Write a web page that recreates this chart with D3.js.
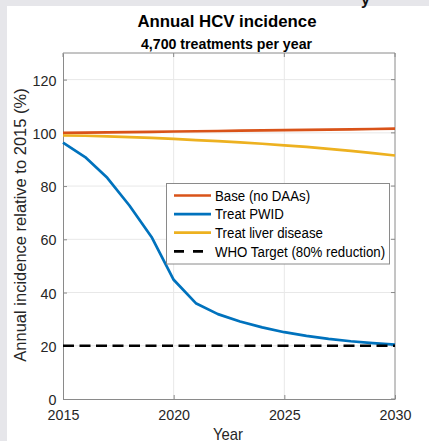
<!DOCTYPE html>
<html><head><meta charset="utf-8">
<script src="https://cdn.jsdelivr.net/npm/d3@7"></script>
<style>body{margin:0;background:#fff}svg{display:block}</style>
</head><body><svg id="c" width="429" height="441"></svg>
<script>
const years = [2015,2016,2017,2018,2019,2020,2021,2022,2023,2024,2025,2026,2027,2028,2029,2030];
const base = [100,100.1,100.2,100.3,100.4,100.5,100.6,100.7,100.8,100.9,101.0,101.1,101.2,101.3,101.45,101.6];
const treatPWID = [96.3,90.9,83.1,72.7,60.9,44.8,36.0,31.9,29.1,26.9,25.1,23.7,22.6,21.7,21.0,20.4];
const treatLiver = [99.0,98.9,98.7,98.4,98.1,97.7,97.3,96.9,96.4,95.9,95.3,94.7,94.0,93.2,92.4,91.5];
const whoTarget = 20;
const xTicks = [2015,2020,2025,2030];
const yTicks = [0,20,40,60,80,100,120];
const seriesNames = ["Base (no DAAs)","Treat PWID","Treat liver disease","WHO Target (80% reduction)"];

const svg = d3.select("#c");
const font = "Liberation Sans, Arial, Helvetica, sans-serif";
svg.append("rect").attr("x",0).attr("y",0).attr("width",429).attr("height",441).attr("fill","#e6e6ea");
svg.append("rect").attr("x",7).attr("y",6).attr("width",422).attr("height",435).attr("fill","#fff");
svg.append("text").attr("x",361).attr("y",5).attr("font-family",font).attr("font-weight","bold").attr("font-size",16).attr("fill","#111").text("y");

const L=63, R=395, T=53, B=399;
const x = d3.scaleLinear().domain([2015,2030]).range([L,R]);
const y = d3.scaleLinear().domain([0,130]).range([B,T]);
const axCol = "#8a8a8a";

const g = svg.append("g");
g.selectAll(".gx").data(xTicks.slice(1,-1)).join("line").attr("x1",d=>x(d)).attr("x2",d=>x(d)).attr("y1",T).attr("y2",B).attr("stroke","#e8e8e8");
g.selectAll(".gy").data(yTicks.slice(1)).join("line").attr("x1",L).attr("x2",R).attr("y1",d=>y(d)).attr("y2",d=>y(d)).attr("stroke","#e8e8e8");

const xAxis = d3.axisBottom(x).tickValues(xTicks).tickFormat(d3.format("d")).tickSizeInner(-4).tickSizeOuter(0).tickPadding(8);
const yAxis = d3.axisLeft(y).tickValues(yTicks).tickSizeInner(-4).tickSizeOuter(0).tickPadding(7);
const gx = svg.append("g").attr("transform",`translate(0,${B})`).call(xAxis);
const gy = svg.append("g").attr("transform",`translate(${L},0)`).call(yAxis);
[gx,gy].forEach(a=>{
  a.select(".domain").attr("stroke",axCol);
  a.selectAll(".tick line").attr("stroke",axCol);
  a.selectAll("text").attr("font-family",font).attr("font-size",15.4).attr("fill","#262626").attr("transform","scale(0.93,1)");
});
gx.selectAll("text").attr("y",21).attr("dy",0);
gy.selectAll("text").attr("dy","0.36em");
svg.append("line").attr("x1",L).attr("x2",R).attr("y1",T).attr("y2",T).attr("stroke",axCol);
svg.append("line").attr("x1",R).attr("x2",R).attr("y1",T).attr("y2",B).attr("stroke",axCol);
svg.selectAll(".rt").data(yTicks).join("line").attr("x1",R).attr("x2",R-4).attr("y1",d=>y(d)).attr("y2",d=>y(d)).attr("stroke",axCol);
svg.selectAll(".tt").data(xTicks).join("line").attr("x1",d=>x(d)).attr("x2",d=>x(d)).attr("y1",T).attr("y2",T+4).attr("stroke",axCol);

const colors = ["#D95319","#0072BD","#EDB120","#000"];
const line = d3.line().x((d,i)=>x(years[i])).y(d=>y(d));
[base,treatPWID,treatLiver].forEach((s,k)=>{
  svg.append("path").datum(s).attr("d",line).attr("fill","none").attr("stroke",colors[k]).attr("stroke-width",2.7).attr("stroke-linejoin","round");
});
svg.append("line").attr("x1",x(2015)).attr("x2",x(2030)).attr("y1",y(whoTarget)).attr("y2",y(whoTarget))
  .attr("stroke","#000").attr("stroke-width",2.7).attr("stroke-dasharray","11,5.5");

svg.append("text").attr("x",227).attr("y",27).attr("text-anchor","middle").attr("font-family",font).attr("font-weight","bold").attr("font-size",16.8).attr("fill","#000").text("Annual HCV incidence");
svg.append("text").attr("x",226.5).attr("y",49).attr("text-anchor","middle").attr("font-family",font).attr("font-weight","bold").attr("font-size",14.2).attr("fill","#000").text("4,700 treatments per year");
svg.append("text").attr("transform","translate(228,440) scale(0.93,1)").attr("text-anchor","middle").attr("font-family",font).attr("font-size",16).attr("fill","#262626").text("Year");
svg.append("text").attr("transform","translate(25.5,225) rotate(-90)").attr("text-anchor","middle").attr("font-family",font).attr("font-size",16.5).attr("fill","#262626").text("Annual incidence relative to 2015 (%)");

const lg = svg.append("g");
lg.append("rect").attr("x",166.5).attr("y",183.5).attr("width",223).attr("height",80.5).attr("fill","#fff").attr("stroke",axCol);
seriesNames.forEach((n,i)=>{
  const yy = 195.5 + i*18.6;
  lg.append("line").attr("x1",174).attr("x2",211).attr("y1",yy).attr("y2",yy).attr("stroke",colors[i]).attr("stroke-width",2.7)
    .attr("stroke-dasharray", i===3 ? "10,9" : null);
  lg.append("text").attr("transform",`translate(215,${yy+5.2}) scale(0.91,1)`).attr("font-family",font).attr("font-size",14.6).attr("fill","#000").text(n);
});
</script></body></html>
